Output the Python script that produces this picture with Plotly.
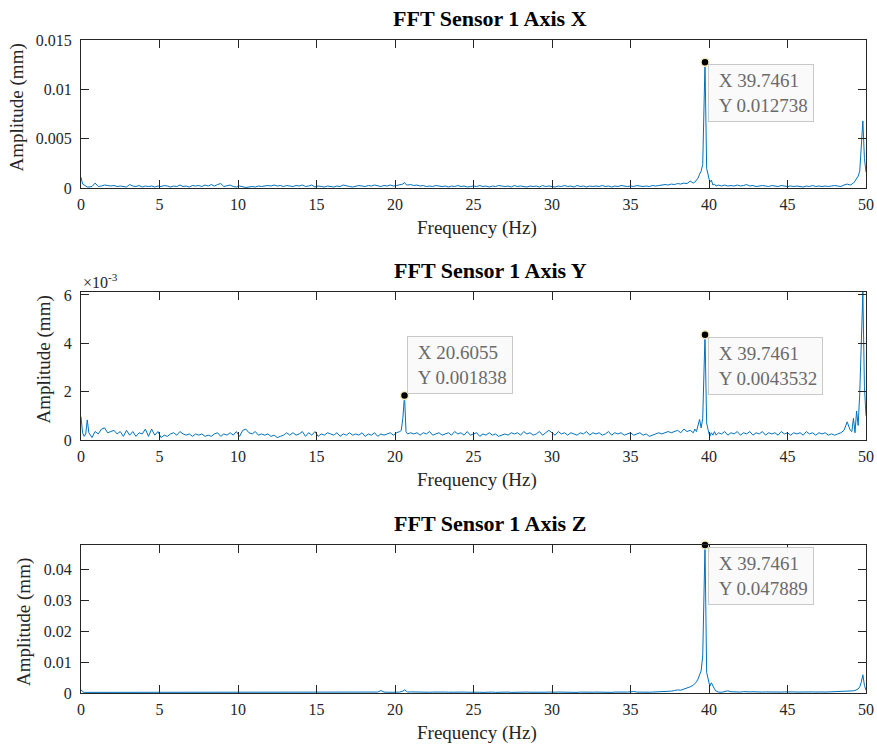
import plotly.graph_objects as go

# ---------------- data ----------------
freq_hz = [
    0, 0.1, 0.2, 0.3, 0.4, 0.5, 0.7, 0.9, 1.1, 1.3,
    1.5, 1.7, 1.9, 2.1, 2.3, 2.5, 2.7, 2.9, 3.1, 3.3,
    3.5, 3.7, 3.9, 4.1, 4.3, 4.5, 4.7, 4.9, 5.1, 5.3,
    5.5, 5.7, 5.9, 6.1, 6.3, 6.5, 6.7, 6.9, 7.1, 7.3,
    7.5, 7.7, 7.9, 8.1, 8.3, 8.5, 8.7, 8.9, 9.1, 9.3,
    9.5, 9.7, 9.9, 10.1, 10.3, 10.5, 10.7, 10.9, 11.1, 11.3,
    11.5, 11.7, 11.9, 12.1, 12.3, 12.5, 12.7, 12.9, 13.1, 13.3,
    13.5, 13.7, 13.9, 14.1, 14.3, 14.5, 14.7, 14.9, 15.1, 15.3,
    15.5, 15.7, 15.9, 16.1, 16.3, 16.5, 16.7, 16.9, 17.1, 17.3,
    17.5, 17.7, 17.9, 18.1, 18.3, 18.5, 18.7, 18.9, 19.1, 19.3,
    19.5, 19.7, 19.9, 20.1, 20.3, 20.4, 20.5, 20.6055, 20.7, 20.8,
    21.0, 21.2, 21.4, 21.6, 21.8, 22.0, 22.2, 22.4, 22.6, 22.8,
    23.0, 23.2, 23.4, 23.6, 23.8, 24.0, 24.2, 24.4, 24.6, 24.8,
    25.0, 25.2, 25.4, 25.6, 25.8, 26.0, 26.2, 26.4, 26.6, 26.8,
    27.0, 27.2, 27.4, 27.6, 27.8, 28.0, 28.2, 28.4, 28.6, 28.8,
    29.0, 29.2, 29.4, 29.6, 29.8, 30.0, 30.2, 30.4, 30.6, 30.8,
    31.0, 31.2, 31.4, 31.6, 31.8, 32.0, 32.2, 32.4, 32.6, 32.8,
    33.0, 33.2, 33.4, 33.6, 33.8, 34.0, 34.2, 34.4, 34.6, 34.8,
    35.0, 35.2, 35.4, 35.6, 35.8, 36.0, 36.2, 36.4, 36.6, 36.8,
    37.0, 37.2, 37.4, 37.6, 37.8, 38.0, 38.2, 38.4, 38.6, 38.8,
    39.0, 39.1, 39.2, 39.3, 39.4, 39.5, 39.6, 39.7461, 39.85, 39.95,
    40.05, 40.15, 40.25, 40.35, 40.45, 40.6, 40.8, 41.0, 41.2, 41.4,
    41.6, 41.8, 42.0, 42.2, 42.4, 42.6, 42.8, 43.0, 43.2, 43.4,
    43.6, 43.8, 44.0, 44.2, 44.4, 44.6, 44.8, 45.0, 45.2, 45.4,
    45.6, 45.8, 46.0, 46.2, 46.4, 46.6, 46.8, 47.0, 47.2, 47.4,
    47.6, 47.8, 48.0, 48.2, 48.4, 48.6, 48.8, 49.0, 49.1, 49.2,
    49.3, 49.4, 49.5, 49.6, 49.7, 49.8, 49.9, 50.0,
]

amp_x_mm = [
    0.0011, 0.0004, 0.0003, 0.00015, 0.0001, 0.0001, 0.00015, 0.0005, 0.00015, 0.0002,
    0.0003, 0.00025, 0.0002, 0.00025, 0.00015, 0.0002, 0.00015, 0.0001, 0.00035, 0.0002,
    0.00015, 0.00025, 0.0001, 0.0002, 0.00015, 0.0002, 0.0001, 0.0002, 0.00015, 0.00025,
    0.0002, 0.0001, 0.0002, 0.00015, 0.0003, 0.00015, 0.0002, 0.0001, 0.00025, 0.0002,
    0.00025, 0.00015, 0.0003, 0.0002, 0.00035, 0.0002, 0.00035, 0.00045, 0.00015, 0.00025,
    0.0003, 0.00015, 0.0001, 0.0002, 0.0001, 0.00005, 0.0001, 0.00015, 0.0001, 0.0002,
    0.00015, 0.0002, 0.00025, 0.0002, 0.0003, 0.0002, 0.00025, 0.00015, 0.00025, 0.0002,
    0.00015, 0.00025, 0.0002, 0.0003, 0.00015, 0.0002, 0.0003, 0.0001, 0.0002, 0.00015,
    0.0001, 0.0002, 0.00015, 0.0001, 0.0002, 0.00015, 0.0003, 0.0002, 0.00015, 0.0001,
    0.0002, 0.00025, 0.0002, 0.00015, 0.00025, 0.0002, 0.0003, 0.0002, 0.00015, 0.00025,
    0.0002, 0.0003, 0.0002, 0.00025, 0.0003, 0.00035, 0.0004, 0.00055, 0.00035, 0.0003,
    0.00035, 0.00025, 0.0003, 0.0002, 0.00025, 0.00015, 0.0002, 0.00015, 0.00025, 0.0002,
    0.00015, 0.0002, 0.0001, 0.0002, 0.00015, 0.00025, 0.00015, 0.0002, 0.0001, 0.00015,
    0.0002, 0.00015, 0.00025, 0.00015, 0.0002, 0.0001, 0.0002, 0.00015, 0.00025, 0.0002,
    0.00015, 0.0002, 0.0001, 0.00025, 0.00015, 0.0002, 0.00015, 0.0001, 0.0002, 0.00015,
    0.0002, 0.0001, 0.00025, 0.00015, 0.0002, 0.00015, 0.0001, 0.0002, 0.00015, 0.00025,
    0.00015, 0.0002, 0.0001, 0.00025, 0.00015, 0.0002, 0.0001, 0.0002, 0.00015, 0.0002,
    0.00015, 0.00025, 0.00015, 0.0002, 0.0001, 0.0002, 0.00015, 0.00025, 0.0002, 0.00015,
    0.0002, 0.00015, 0.00025, 0.0002, 0.00015, 0.0002, 0.00015, 0.00025, 0.0002, 0.00025,
    0.0003, 0.00035, 0.0003, 0.0004, 0.00035, 0.00045, 0.0004, 0.0005, 0.00045, 0.0007,
    0.0005, 0.0006, 0.0008, 0.001, 0.0014, 0.0017, 0.0024, 0.012738, 0.002, 0.0014,
    0.0006, 0.0008, 0.0003, 0.0004, 0.0002, 0.0003, 0.0002, 0.0003, 0.0002, 0.00025,
    0.0002, 0.0003, 0.0002, 0.00025, 0.00035, 0.0002, 0.00025, 0.00015, 0.0002, 0.00025,
    0.0002, 0.00015, 0.00025, 0.0002, 0.00015, 0.00025, 0.0002, 0.00015, 0.0002, 0.00015,
    0.0002, 0.00015, 0.0001, 0.0002, 0.00015, 0.00025, 0.00015, 0.0002, 0.00015, 0.0002,
    0.00015, 0.0002, 0.00025, 0.0002, 0.00015, 0.0003, 0.0004, 0.0003, 0.0004, 0.0005,
    0.0007, 0.0009, 0.0012, 0.0017, 0.0038, 0.0068, 0.003, 0.0016,
]

amp_y_mm = [
    0.00096, 0.0003, 0.00015, 0.00025, 0.00083, 0.0003, 0.0001, 0.00035, 0.00025, 0.00045,
    0.0005, 0.0003, 0.00035, 0.0004, 0.00025, 0.00035, 0.00015, 0.0004, 0.0002, 0.00035,
    0.00015, 0.0003, 0.00025, 0.00045, 0.00015, 0.00045, 0.0002, 0.00035, 0.0001, 0.0002,
    0.00015, 0.00025, 0.0003, 0.0002, 0.00035, 0.00025, 0.0002, 0.00025, 0.00015, 0.00025,
    0.0002, 0.00025, 0.00015, 0.0002, 0.00015, 0.00025, 0.0003, 0.00015, 0.00025, 0.0002,
    0.0003, 0.0002, 0.00035, 0.00015, 0.0004, 0.00045, 0.0003, 0.00025, 0.00035, 0.0002,
    0.00025, 0.0002, 0.00025, 0.00015, 0.0002, 0.0001, 0.00015, 0.0002, 0.0003, 0.0002,
    0.0003, 0.0002, 0.00025, 0.00035, 0.00015, 0.0003, 0.0002, 0.00035, 0.00015, 0.00025,
    0.0002, 0.0003, 0.00025, 0.0002, 0.0003, 0.00015, 0.00025, 0.0002, 0.0003, 0.0002,
    0.00025, 0.0002, 0.0003, 0.00015, 0.00025, 0.0002, 0.0003, 0.00015, 0.00025, 0.0002,
    0.00025, 0.0003, 0.0002, 0.0003, 0.00035, 0.0004, 0.0009, 0.001838, 0.00035, 0.00025,
    0.0003, 0.00025, 0.0003, 0.0002, 0.0003, 0.00025, 0.00035, 0.0002, 0.00025, 0.0003,
    0.0002, 0.00025, 0.0003, 0.0002, 0.00035, 0.00025, 0.0003, 0.0002, 0.00035, 0.0002,
    0.00025, 0.0003, 0.00015, 0.00025, 0.0002, 0.0003, 0.0002, 0.00025, 0.00015, 0.0002,
    0.00025, 0.0002, 0.0003, 0.00025, 0.0003, 0.0002, 0.00035, 0.00025, 0.0003, 0.0002,
    0.00025, 0.00035, 0.0002, 0.0003, 0.0004, 0.0003, 0.0002, 0.00035, 0.00025, 0.0003,
    0.0002, 0.0003, 0.00025, 0.0002, 0.0003, 0.00025, 0.00035, 0.0002, 0.0003, 0.00025,
    0.0003, 0.0002, 0.00025, 0.00035, 0.0002, 0.0003, 0.00025, 0.0003, 0.0002, 0.00025,
    0.0003, 0.0002, 0.00025, 0.0003, 0.0002, 0.00025, 0.00015, 0.0002, 0.00025, 0.0003,
    0.00025, 0.0003, 0.00035, 0.0003, 0.00035, 0.0004, 0.0003, 0.00045, 0.00035, 0.0004,
    0.0003, 0.00045, 0.00035, 0.0006, 0.00085, 0.0005, 0.0009, 0.0043532, 0.0007, 0.0004,
    0.00015, 0.0003, 0.0002, 0.00035, 0.0002, 0.0003, 0.00025, 0.00035, 0.0002, 0.0003,
    0.00025, 0.00035, 0.0002, 0.0003, 0.00025, 0.00035, 0.0002, 0.0003, 0.00025, 0.00035,
    0.0002, 0.0003, 0.00025, 0.0003, 0.0002, 0.00035, 0.00025, 0.0003, 0.0002, 0.0003,
    0.00025, 0.0003, 0.0002, 0.00035, 0.00025, 0.0003, 0.0002, 0.0003, 0.00025, 0.0003,
    0.0002, 0.00025, 0.0002, 0.00025, 0.0003, 0.0004, 0.00075, 0.0004, 0.00035, 0.0009,
    0.0003, 0.0012, 0.0006, 0.0019, 0.004, 0.00612, 0.0022, 0.001,
]

amp_z_mm = [
    0.0011, 0.0004, 0.0002, 0.0002, 0.0003, 0.0002, 0.0003, 0.0004, 0.0002, 0.0002,
    0.0002, 0.0003, 0.0002, 0.00025, 0.0002, 0.0003, 0.0002, 0.00025, 0.0003, 0.0002,
    0.00025, 0.0002, 0.0003, 0.0002, 0.00025, 0.0002, 0.0003, 0.0002, 0.00025, 0.0002,
    0.0002, 0.00025, 0.0002, 0.0003, 0.0002, 0.00025, 0.0002, 0.0003, 0.0002, 0.00025,
    0.0002, 0.0003, 0.0002, 0.00025, 0.0003, 0.0002, 0.00035, 0.0002, 0.0003, 0.0002,
    0.0002, 0.00025, 0.0003, 0.0002, 0.00025, 0.0002, 0.0003, 0.0002, 0.00025, 0.0002,
    0.0002, 0.00025, 0.0002, 0.0003, 0.0002, 0.00025, 0.0003, 0.0002, 0.00025, 0.0002,
    0.0003, 0.0002, 0.00025, 0.0003, 0.0002, 0.0003, 0.00025, 0.0002, 0.0003, 0.0002,
    0.0002, 0.00025, 0.0002, 0.0003, 0.0002, 0.00025, 0.0002, 0.00025, 0.0002, 0.0002,
    0.0002, 0.00025, 0.0002, 0.0003, 0.00025, 0.0002, 0.00025, 0.0003, 0.0008, 0.0003,
    0.00025, 0.0002, 0.0003, 0.00025, 0.0003, 0.0004, 0.0006, 0.001, 0.0005, 0.0003,
    0.00035, 0.0003, 0.00025, 0.0003, 0.00025, 0.0003, 0.00025, 0.0003, 0.00035, 0.0003,
    0.00025, 0.0003, 0.00025, 0.0003, 0.0002, 0.0003, 0.00025, 0.0003, 0.00025, 0.0003,
    0.00025, 0.0003, 0.00025, 0.0002, 0.0003, 0.00025, 0.0003, 0.0002, 0.00025, 0.0003,
    0.00025, 0.0003, 0.0002, 0.00025, 0.0003, 0.00025, 0.0002, 0.0003, 0.00025, 0.0002,
    0.0003, 0.00025, 0.0002, 0.00025, 0.0003, 0.0002, 0.00025, 0.0003, 0.00025, 0.0002,
    0.00025, 0.0003, 0.00025, 0.0002, 0.0003, 0.00025, 0.0003, 0.0002, 0.00025, 0.0003,
    0.00025, 0.0003, 0.00025, 0.0003, 0.0002, 0.0003, 0.00025, 0.0003, 0.00025, 0.0003,
    0.00035, 0.0005, 0.0003, 0.00025, 0.0003, 0.0002, 0.00025, 0.0003, 0.00035, 0.00045,
    0.0003, 0.0004, 0.0005, 0.0006, 0.0008, 0.001, 0.0009, 0.0012, 0.0015, 0.002,
    0.0025, 0.0029, 0.0036, 0.0045, 0.006, 0.0072, 0.012, 0.047889, 0.0067, 0.004,
    0.0022, 0.0033, 0.002, 0.0013, 0.0006, 0.0003, 0.00025, 0.0004, 0.0007, 0.0004,
    0.0003, 0.0004, 0.0003, 0.00045, 0.0003, 0.00035, 0.0004, 0.0003, 0.0004, 0.0003,
    0.00035, 0.0003, 0.0004, 0.0003, 0.00035, 0.0003, 0.00035, 0.0004, 0.0003, 0.00035,
    0.0003, 0.00035, 0.0003, 0.00025, 0.0003, 0.00035, 0.0003, 0.0004, 0.00035, 0.0003,
    0.00035, 0.0003, 0.00035, 0.0003, 0.0004, 0.00035, 0.0004, 0.0005, 0.0006, 0.0007,
    0.0008, 0.001, 0.0013, 0.002, 0.0035, 0.0059, 0.0025, 0.0009,
]

panel_titles = ["FFT Sensor 1 Axis X", "FFT Sensor 1 Axis Y", "FFT Sensor 1 Axis Z"]
x_tick_vals = [0, 5, 10, 15, 20, 25, 30, 35, 40, 45, 50]
y_tick_vals_x = [0, 0.005, 0.01, 0.015]
y_tick_text_x = ["0", "0.005", "0.01", "0.015"]
y_tick_vals_y = [0, 0.002, 0.004, 0.006]
y_tick_text_y = ["0", "2", "4", "6"]
y_tick_vals_z = [0, 0.01, 0.02, 0.03, 0.04]
y_tick_text_z = ["0", "0.01", "0.02", "0.03", "0.04"]
y_max = [0.015, 0.00612, 0.047889]

# data tips: panel index, frequency, amplitude, box side
tip_panel = [0, 1, 1, 2]
tip_freq = [39.7461, 20.6055, 39.7461, 39.7461]
tip_amp = [0.012738, 0.001838, 0.0043532, 0.047889]
tip_side = ["below", "above", "below", "below"]

for arr in (amp_x_mm, amp_y_mm, amp_z_mm):
    assert len(arr) == len(freq_hz), (len(arr), len(freq_hz))

# ---------------- styling ----------------
SERIF = "Liberation Serif, Times New Roman, serif"
AX = "#262626"
BLUE = "#0072BD"
W, H = 877, 749
PLOT_L, PLOT_R = 81, 866      # page-pixel extent of the axes
panel_px = [(40, 188), (292, 440), (545, 693)]  # page-pixel rows of panels
ML = PLOT_L
MR = W - PLOT_R
MT = panel_px[0][0]
MB = H - panel_px[2][1]
plot_h = H - MT - MB
domains = [[(panel_px[2][1] - b) / plot_h, (panel_px[2][1] - t) / plot_h]
           for t, b in panel_px]

series = [amp_x_mm, amp_y_mm, amp_z_mm]
ytv = [y_tick_vals_x, y_tick_vals_y, y_tick_vals_z]
ytt = [y_tick_text_x, y_tick_text_y, y_tick_text_z]

fig = go.Figure()
layout = dict(
    width=W, height=H, autosize=False,
    margin=dict(l=ML, r=MR, t=MT, b=MB, pad=0, autoexpand=False),
    paper_bgcolor="white", plot_bgcolor="white",
    showlegend=False,
    font=dict(family=SERIF, color=AX),
)
annotations = []
for i in range(3):
    xa = "x" if i == 0 else f"x{i+1}"
    ya = "y" if i == 0 else f"y{i+1}"
    fig.add_trace(go.Scatter(
        x=freq_hz, y=series[i], mode="lines",
        line=dict(color=BLUE, width=1), xaxis=xa, yaxis=ya,
        hoverinfo="skip",
    ))
    axis_common = dict(
        showline=True, linecolor=AX, linewidth=1, mirror="ticks",
        ticks="inside", ticklen=8, tickwidth=1, tickcolor=AX,
        showgrid=False, zeroline=False, automargin=False,
        tickfont=dict(family=SERIF, size=16, color=AX),
    )
    layout["xaxis" if i == 0 else f"xaxis{i+1}"] = dict(
        axis_common, domain=[0, 1], anchor=ya, range=[0, 50],
        tickvals=x_tick_vals, ticktext=[str(v) for v in x_tick_vals],
        ticklabelstandoff=2,
    )
    layout["yaxis" if i == 0 else f"yaxis{i+1}"] = dict(
        axis_common, domain=domains[i], anchor=xa, range=[0, y_max[i]],
        tickvals=ytv[i], ticktext=ytt[i], ticklabelstandoff=5,
    )
    d0, d1 = domains[i]
    # title
    annotations.append(dict(
        text=f"<b>{panel_titles[i]}</b>", xref="paper", yref="paper",
        x=0.5, y=d1, xanchor="center", yanchor="middle",
        xshift=16.5, yshift=22, showarrow=False,
        font=dict(family=SERIF, size=22, color="black"),
    ))
    # x label
    annotations.append(dict(
        text="Frequency (Hz)", xref="paper", yref="paper",
        x=0.5, y=d0, xanchor="center", yanchor="middle",
        xshift=3, yshift=-40, showarrow=False,
        font=dict(family=SERIF, size=19, color=AX),
    ))

# y labels (page x pixel center, vertical offset from panel center)
ylabel_x_px = [16, 43.5, 23.5]
ylabel_dy = [6.5, 6, -3.5]
for i in range(3):
    d0, d1 = domains[i]
    annotations.append(dict(
        text="Amplitude (mm)", xref="paper", yref="paper",
        x=0, y=(d0 + d1) / 2, xanchor="center", yanchor="middle",
        xshift=ylabel_x_px[i] - PLOT_L, yshift=ylabel_dy[i], textangle=-90,
        showarrow=False, font=dict(family=SERIF, size=19, color=AX),
    ))

# exponent label of middle panel
annotations.append(dict(
    text="×10<sup>-3</sup>", xref="paper", yref="paper",
    x=0, y=domains[1][1], xanchor="left", yanchor="bottom",
    xshift=0, yshift=-1, showarrow=False,
    font=dict(family=SERIF, size=16, color=AX),
))

# data tips
NB = "\u00a0"
for k in range(len(tip_freq)):
    i = tip_panel[k]
    xa = "x" if i == 0 else f"x{i+1}"
    ya = "y" if i == 0 else f"y{i+1}"
    fig.add_trace(go.Scatter(
        x=[tip_freq[k]], y=[tip_amp[k]], mode="markers", xaxis=xa, yaxis=ya,
        marker=dict(color="black", size=8, line=dict(color="#f2ecc0", width=1.5)),
        cliponaxis=False, hoverinfo="skip",
    ))
    below = tip_side[k] == "below"
    annotations.append(dict(
        text=f"{NB}X {tip_freq[k]:g}<br>{NB}Y {tip_amp[k]:g}",
        xref=xa, yref=ya, x=tip_freq[k], y=tip_amp[k],
        xanchor="left", yanchor="top" if below else "bottom",
        xshift=2.5, yshift=-2 if below else 2,
        showarrow=False, align="left",
        font=dict(family=SERIF, size=19, color="#6a6a6a"),
        bgcolor="rgba(250,250,250,0.95)", bordercolor="#c9c9c9",
        borderwidth=1, borderpad=5, height=46,
    ))

layout["annotations"] = annotations
fig.update_layout(**layout)
fig.write_html(
    "out.html",
    config={"displayModeBar": False, "responsive": False},
    post_script="document.body.style.margin='0px';document.body.style.overflow='hidden';",
)
